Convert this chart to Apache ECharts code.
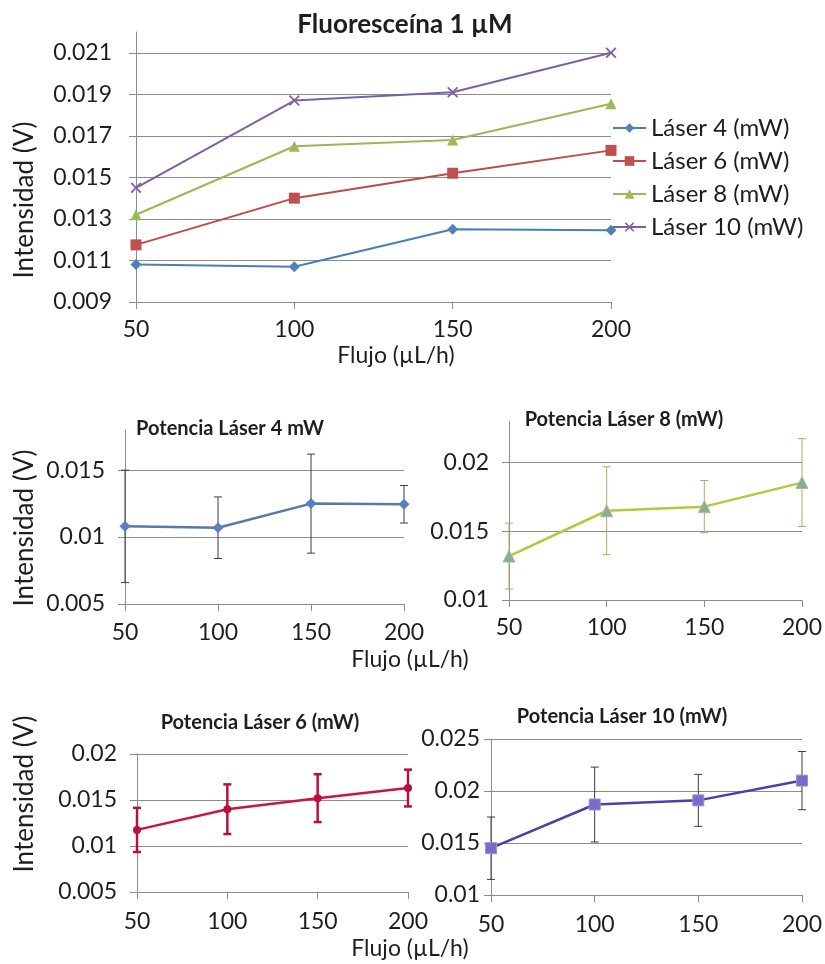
<!DOCTYPE html>
<html>
<head>
<meta charset="utf-8">
<script src="https://cdn.jsdelivr.net/npm/echarts@6/dist/echarts.min.js"></script>
<style>
  html, body { margin: 0; padding: 0; background: #fff; }
  #main { width: 825px; height: 964px; }
</style>
</head>
<body>
<div id="main"></div>
<script>
const myChart = echarts.init(document.getElementById("main"));

// flujo (uL/h)
const flujo = [50, 100, 150, 200];
// intensidad media (V) por potencia laser
const laser4 = [0.0108, 0.0107, 0.0125, 0.01245];
const laser6 = [0.01175, 0.0140, 0.0152, 0.0163];
const laser8 = [0.0132, 0.0165, 0.0168, 0.01855];
const laser10 = [0.0145, 0.0187, 0.0191, 0.0210];
// desviaciones (barras de error)
const err4 = [0.0042, 0.0023, 0.0037, 0.0014];
const err6 = [0.0024, 0.0027, 0.0026, 0.0020];
const err8 = [0.0024, 0.0032, 0.0019, 0.0032];
const err10 = [0.0030, 0.0036, 0.0025, 0.0028];

const legendNames = ["Láser 4 (mW)", "Láser 6 (mW)", "Láser 8 (mW)", "Láser 10 (mW)"];

const font = "Lato, 'Open Sans', sans-serif";
const gridColor = "#8c8c8c";
const labelColor = "#1e1e1e";
const tickSize = 23;
const xSymbol = "path://M0,1.2L1.2,0L5,3.8L8.8,0L10,1.2L6.2,5L10,8.8L8.8,10L5,6.2L1.2,10L0,8.8L3.8,5Z";

function pairs(values) {
  return flujo.map((f, i) => [f, values[i]]);
}

function xAxisFor(gridIndex, margin) {
  return {
    type: "value",
    gridIndex: gridIndex,
    min: 50,
    max: 200,
    interval: 50,
    axisLine: { show: true, lineStyle: { color: gridColor, width: 1 } },
    axisTick: { show: true, length: 7, lineStyle: { color: gridColor } },
    splitLine: { show: false },
    axisLabel: { color: labelColor, fontSize: tickSize, fontFamily: font, margin: margin },
  };
}

function yAxisFor(gridIndex, min, max, interval, margin, maxOnTick) {
  return {
    type: "value",
    gridIndex: gridIndex,
    min: min,
    max: max,
    interval: interval,
    axisLine: { show: true, lineStyle: { color: gridColor, width: 1 } },
    axisTick: { show: true, length: 7, lineStyle: { color: gridColor } },
    splitLine: { show: true, showMaxLine: maxOnTick, lineStyle: { color: gridColor, width: 1 } },
    axisLabel: {
      color: labelColor, fontSize: tickSize, fontFamily: font, margin: margin,
      showMaxLabel: maxOnTick,
    },
  };
}

function errorSeries(gridIndex, values, errs, color, width) {
  return {
    type: "custom",
    name: "err" + gridIndex,
    xAxisIndex: gridIndex,
    yAxisIndex: gridIndex,
    silent: true,
    z: 1,
    data: flujo.map((f, i) => [f, values[i] - errs[i], values[i] + errs[i]]),
    encode: { x: 0, y: [1, 2] },
    renderItem: function (params, api) {
      const lo = api.coord([api.value(0), api.value(1)]);
      const hi = api.coord([api.value(0), api.value(2)]);
      const w = 4;
      const style = { stroke: color, lineWidth: width };
      return {
        type: "group",
        children: [
          { type: "line", shape: { x1: lo[0], y1: lo[1], x2: hi[0], y2: hi[1] }, style: style },
          { type: "line", shape: { x1: lo[0] - w, y1: lo[1], x2: lo[0] + w, y2: lo[1] }, style: style },
          { type: "line", shape: { x1: hi[0] - w, y1: hi[1], x2: hi[0] + w, y2: hi[1] }, style: style },
        ],
      };
    },
  };
}

function text(str, x, y, size, bold, rotate) {
  return {
    type: "text",
    x: x,
    y: y,
    rotation: rotate ? Math.PI / 2 : 0,
    style: {
      text: str,
      fontSize: size,
      fontFamily: font,
      fontWeight: bold ? "bold" : "normal",
      fill: labelColor,
      align: "center",
      verticalAlign: "middle",
    },
  };
}

const options = {
  backgroundColor: "#ffffff",
  animation: false,
  legend: {
    data: legendNames,
    orient: "vertical",
    left: 607,
    top: 111,
    itemWidth: 33,
    itemHeight: 12,
    itemGap: 9,
    textStyle: { fontSize: 24, fontFamily: font, color: labelColor, lineHeight: 21 },
  },
  grid: [
    { left: 136, top: 32, width: 475, height: 270 },
    { left: 125, top: 430, width: 279, height: 174 },
    { left: 509, top: 421.5, width: 295, height: 178.5 },
    { left: 137, top: 754, width: 271, height: 138 },
    { left: 491, top: 739, width: 313, height: 156 },
  ],
  xAxis: [
    xAxisFor(0, 16),
    xAxisFor(1, 17),
    xAxisFor(2, 16),
    xAxisFor(3, 18),
    xAxisFor(4, 18),
  ],
  yAxis: [
    yAxisFor(0, 0.009, 0.022, 0.002, 24, false),
    yAxisFor(1, 0.005, 0.018, 0.005, 20, false),
    yAxisFor(2, 0.01, 0.023, 0.005, 20, false),
    yAxisFor(3, 0.005, 0.02, 0.005, 20, true),
    yAxisFor(4, 0.01, 0.025, 0.005, 11, true),
  ],
  graphic: [
    text("Fluoresceína 1 µM", 405, 25, 26, true, false),
    text("Intensidad (V)", 25, 200, 26, false, true),
    text("Flujo (µL/h)", 396, 356, 23, false, false),
    text("Potencia Láser 4 mW", 230, 429, 20, true, false),
    text("Intensidad (V)", 25, 528, 26, false, true),
    text("Flujo (µL/h)", 410, 660, 23, false, false),
    text("Potencia Láser 8 (mW)", 624, 420, 20, true, false),
    text("Potencia Láser 6 (mW)", 260, 723, 20, true, false),
    text("Intensidad (V)", 25, 794, 26, false, true),
    text("Flujo (µL/h)", 410, 949, 23, false, false),
    text("Potencia Láser 10 (mW)", 622, 717, 20, true, false),
  ],
  series: [
    {
      name: legendNames[0], type: "line", xAxisIndex: 0, yAxisIndex: 0,
      data: pairs(laser4), symbol: "diamond", symbolSize: 11,
      lineStyle: { color: "#4a7ebb", width: 2 }, itemStyle: { color: "#4f81bd" },
    },
    {
      name: legendNames[1], type: "line", xAxisIndex: 0, yAxisIndex: 0,
      data: pairs(laser6), symbol: "rect", symbolSize: 11,
      lineStyle: { color: "#be4b48", width: 2 }, itemStyle: { color: "#c0504d" },
    },
    {
      name: legendNames[2], type: "line", xAxisIndex: 0, yAxisIndex: 0,
      data: pairs(laser8), symbol: "triangle", symbolSize: 11,
      lineStyle: { color: "#98b954", width: 2 }, itemStyle: { color: "#9bbb59" },
    },
    {
      name: legendNames[3], type: "line", xAxisIndex: 0, yAxisIndex: 0,
      data: pairs(laser10), symbol: xSymbol, symbolSize: 11,
      lineStyle: { color: "#7d60a0", width: 2 }, itemStyle: { color: "#8064a2" },
    },

    errorSeries(1, laser4, err4, "#3c3c3c", 1),
    {
      name: "Potencia 4", type: "line", xAxisIndex: 1, yAxisIndex: 1, z: 3,
      data: pairs(laser4), symbol: "diamond", symbolSize: 11,
      lineStyle: { color: "#5a78a6", width: 2.5 }, itemStyle: { color: "#5b80bd" },
    },
    errorSeries(2, laser8, err8, "#a8b060", 1),
    {
      name: "Potencia 8", type: "line", xAxisIndex: 2, yAxisIndex: 2, z: 3,
      data: pairs(laser8), symbol: "triangle", symbolSize: 12,
      lineStyle: { color: "#b4c83c", width: 2.5 },
      itemStyle: { color: "#8fad86", borderColor: "#a0b8c0", borderWidth: 1 },
    },
    errorSeries(3, laser6, err6, "#b8123c", 2.5),
    {
      name: "Potencia 6", type: "line", xAxisIndex: 3, yAxisIndex: 3, z: 3,
      data: pairs(laser6), symbol: "circle", symbolSize: 8,
      lineStyle: { color: "#c8163e", width: 2.5 }, itemStyle: { color: "#b8123c" },
    },
    errorSeries(4, laser10, err10, "#3c3c3c", 1),
    {
      name: "Potencia 10", type: "line", xAxisIndex: 4, yAxisIndex: 4, z: 3,
      data: pairs(laser10), symbol: "rect", symbolSize: 11,
      lineStyle: { color: "#4b40a8", width: 2.5 },
      itemStyle: { color: "#7a6cc8", borderColor: "#9a90d8", borderWidth: 1 },
    },
  ],
};

myChart.setOption(options);
</script>
</body>
</html>
